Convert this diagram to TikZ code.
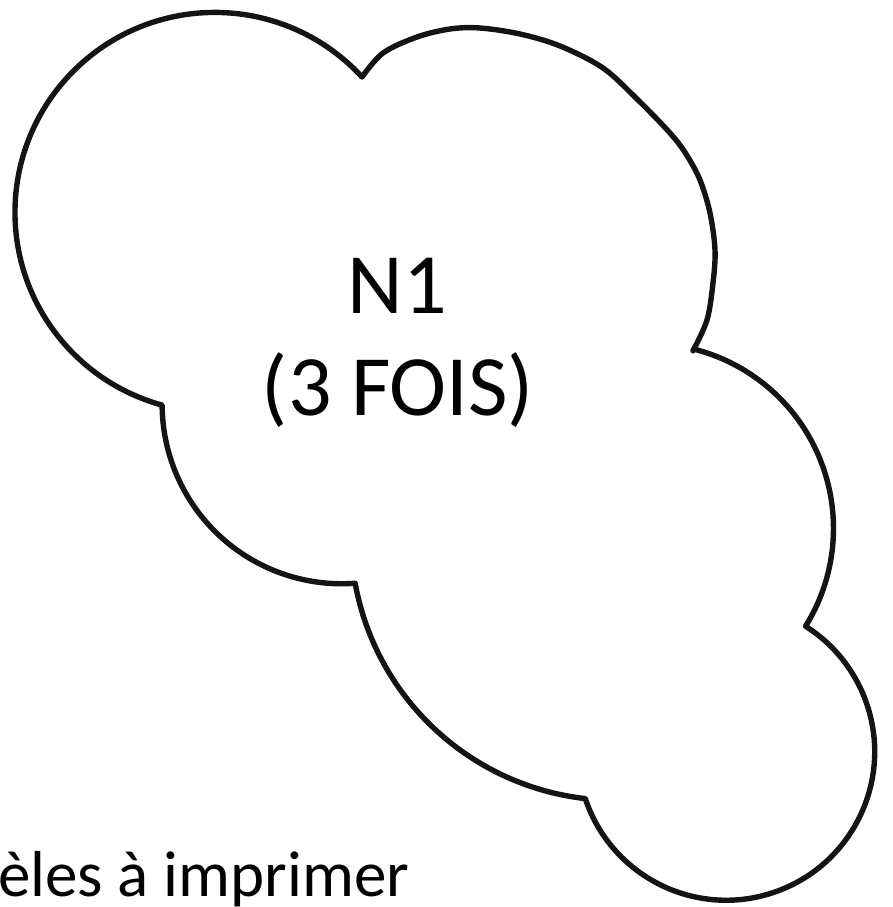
\documentclass[tikz,border=0pt]{standalone}
\usepackage{fontspec}
\setmainfont{Carlito}
\begin{document}
\begin{tikzpicture}[x=1pt,y=-1pt,
  cloudline/.style={draw=black!92,line width=5.4pt,line join=round},
  bigtext/.style={font=\fontsize{86}{103}\selectfont,inner sep=0pt},
  foottext/.style={font=\fontsize{65}{78}\selectfont,inner sep=0pt}]
\useasboundingbox (0,0) rectangle (893,907);
\coordinate (c1) at (362,77);
\coordinate (c2) at (693,350.8);
\draw[cloudline]
  (c1) arc[start angle=-42.6, end angle=-254.7, radius=199.9]
  arc[start angle=179.7, end angle=85.7, radius=179.6]
  arc[start angle=169.7, end angle=96.5, radius=264.3]
  arc[start angle=161.6, end angle=-57.7, radius=148.5]
  arc[start angle=31.9, end angle=-75.9, radius=185]
  -- plot[smooth,tension=0.55] coordinates {(c2) (707,320) (713,283) (715,250) (710,213) (700,180) (686,154) (670,133) (638,100) (603,68) (560,46) (520,34) (480,28) (450,29) (417,37) (383,53) (c1)}
  -- cycle;
\node[bigtext,anchor=base] (n1) at (397,313) {N1};
\node[bigtext,anchor=base] (fois) at (398,415) {(3 FOIS)};
\node[foottext,anchor=base west] (foot) at (-2,896) {èles à imprimer};
\end{tikzpicture}
\end{document}
